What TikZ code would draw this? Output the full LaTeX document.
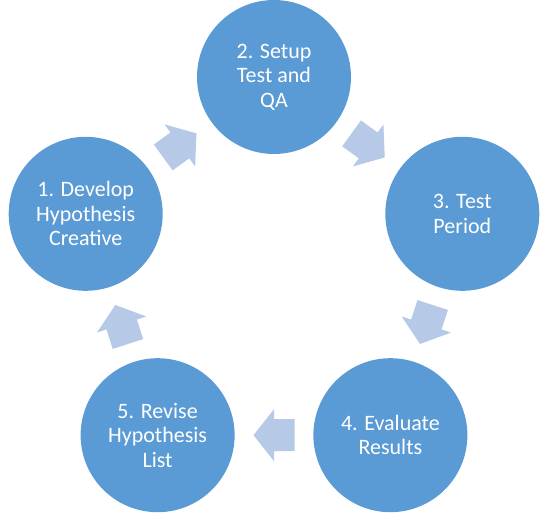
\documentclass[tikz,border=0pt]{standalone}
\usepackage{fontspec}
\setmainfont{Carlito}
\usetikzlibrary{calc}
\definecolor{circblue}{RGB}{91,155,213}
\definecolor{arrowblue}{RGB}{182,202,232}
\begin{document}
\begin{tikzpicture}[x=1pt,y=1pt,
  stage/.style={circle, fill=circblue, minimum size=154pt, inner sep=0pt,
    text=white, align=center, font=\fontsize{22}{24.5}\selectfont},
  blockarrow/.style={fill=arrowblue}]
\useasboundingbox (0,0) rectangle (549,512);
\coordinate (O) at (274,237);
\node[stage] (c1) at ($(O)+(162:198)$) {1. Develop\\Hypothesis\\Creative};
\node[stage] (c2) at ($(O)+(90:198)$) {2. Setup\\Test and\\QA};
\node[stage] (c3) at ($(O)+(18:198)$) {3. Test\\Period};
\node[stage] (c4) at ($(O)+(-54:198)$) {4. Evaluate\\Results};
\node[stage] (c5) at ($(O)+(-126:198)$) {5. Revise\\Hypothesis\\List};
\foreach \a/\b/\r in {c1/c2/36, c2/c3/-36, c3/c4/-108, c4/c5/-180, c5/c1/108}{
  \begin{scope}[shift={($(\a)!0.5!(\b)$)}, rotate=\r]
    \fill[blockarrow] (-20.5,-16) -- (0,-16) -- (0,-26) -- (20.5,0)
      -- (0,26) -- (0,16) -- (-20.5,16) -- cycle;
  \end{scope}
}
\end{tikzpicture}
\end{document}
